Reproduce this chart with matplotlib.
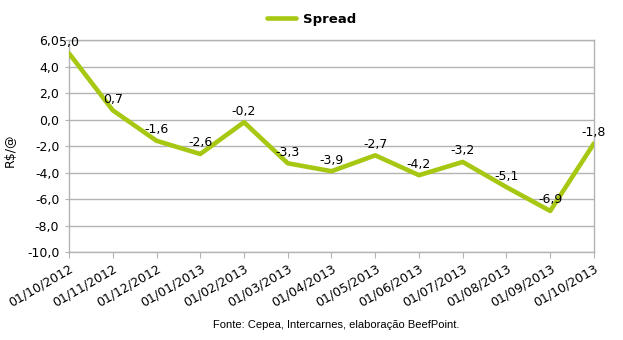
import matplotlib.pyplot as plt
from matplotlib.ticker import FuncFormatter, MultipleLocator

# Spread series (R$/@), monthly
dates = ['01/10/2012', '01/11/2012', '01/12/2012', '01/01/2013', '01/02/2013',
         '01/03/2013', '01/04/2013', '01/05/2013', '01/06/2013', '01/07/2013',
         '01/08/2013', '01/09/2013', '01/10/2013']
spread = [5.0, 0.7, -1.6, -2.6, -0.2, -3.3, -3.9, -2.7, -4.2, -3.2, -5.1, -6.9, -1.8]

line_color = '#a6c812'
grid_color = '#b3b3b3'

fig = plt.figure(figsize=(6.23, 3.40), dpi=100)
ax = fig.add_axes([0.1108, 0.2588, 0.8426, 0.6232])

x = list(range(len(dates)))
ax.plot(x, spread, color=line_color, linewidth=3.3, solid_joinstyle='round',
        solid_capstyle='round', label='Spread', zorder=3)

# value labels above each point
for xi, v in zip(x, spread):
    ax.annotate(f'{v:.1f}'.replace('.', ','), (xi, v), xytext=(0, 8),
                textcoords='offset points', ha='center', va='center',
                fontsize=9, color='#000000', zorder=4)

ax.set_xlim(0, len(dates) - 1)
ax.set_ylim(-10, 6)
ax.yaxis.set_major_locator(MultipleLocator(2))
ax.yaxis.set_major_formatter(FuncFormatter(lambda v, p: f'{v:.1f}'.replace('.', ',')))
ax.set_xticks(x)
ax.set_xticklabels(dates, rotation=30, ha='right', rotation_mode='anchor')

ax.grid(axis='y', color=grid_color, linewidth=1)
ax.set_axisbelow(True)
for s in ax.spines.values():
    s.set_color(grid_color)
    s.set_linewidth(1)
ax.tick_params(axis='x', length=4, color=grid_color, labelsize=9, pad=3)
ax.tick_params(axis='y', length=3, color=grid_color, labelsize=9, pad=4)

fig.text(10 / 623, 1 - 150 / 340, 'R$/@', rotation=90, ha='center', va='center', fontsize=9)
fig.text(336 / 623, 1 - 325 / 340, 'Fonte: Cepea, Intercarnes, elaboração BeefPoint.',
         ha='center', va='center', fontsize=8, family='Liberation Sans')

fig.legend(loc='center', bbox_to_anchor=(0.5, 1 - 19 / 340), frameon=False,
           handlelength=2.2, handletextpad=0.5, prop={'weight': 'bold', 'size': 9.5})

fig.savefig('out.png', dpi=100)
